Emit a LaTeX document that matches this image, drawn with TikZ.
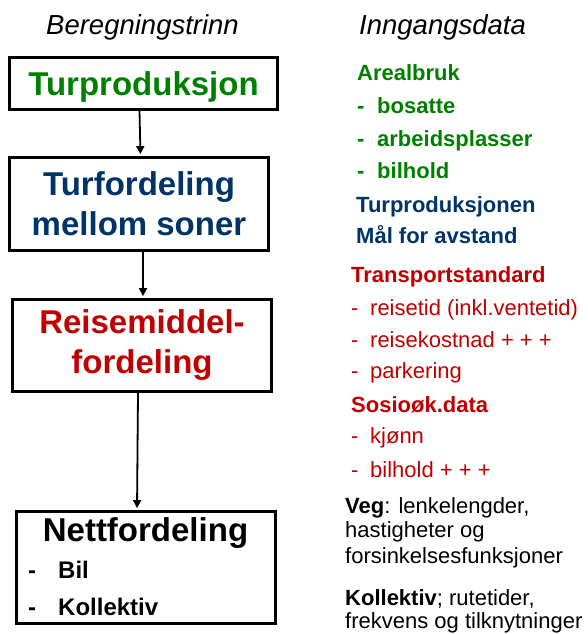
\documentclass[tikz,border=0pt]{standalone}
\usepackage{fontspec}
\setmainfont{Liberation Sans}
\usetikzlibrary{arrows.meta, positioning, calc}
\definecolor{TurGreen}{RGB}{0,128,0}
\definecolor{TurBlue}{RGB}{0,51,102}
\definecolor{TurRed}{RGB}{192,0,0}

\tikzset{
  steg/.style={draw, line width=2.8pt, inner sep=0pt, align=center, font=\fontsize{33}{40}\selectfont\bfseries},
  pil/.style={line width=1.8pt, -{Triangle[length=8pt,width=8pt]}, shorten >=2pt},
  overskrift/.style={anchor=base west, inner sep=0pt, font=\fontsize{27.5}{30}\selectfont\itshape},
  inndata/.style={anchor=base west, inner sep=0pt, font=\fontsize{22}{25}\selectfont},
  inndatafet/.style={inndata, font=\fontsize{22}{25}\selectfont\bfseries},
}
\newcommand{\strek}[1]{\makebox[#1][l]{-}}

\begin{document}
\begin{tikzpicture}[x=1pt, y=-1pt]
\useasboundingbox (0,0) rectangle (587,634);

% overskrifter
\node[overskrift] (beregn) at (46,35) {Beregningstrinn};
\node[overskrift] (inngang) at (359,35) {Inngangsdata};

% beregningstrinn
\node[steg, text=TurGreen, minimum width=268pt, minimum height=52pt, text depth=0pt] (b1) at (143.5,83.5) {Turproduksjon};
\node[steg, text=TurBlue, minimum width=259pt, minimum height=93pt] (b2) at (139,204) {Turfordeling\\mellom soner};
\node[steg, text=TurRed, minimum width=259pt, minimum height=92pt] (b3) at (142,345.5) {Reisemiddel-\\fordeling};
\node[steg, minimum width=259pt, minimum height=112pt] (b4) at (146,567.5) {};
\node[anchor=base, inner sep=0pt, font=\fontsize{33}{40}\selectfont\bfseries] (nett) at (145.5,541) {Nettfordeling};
\node[inndata, font=\fontsize{24}{28}\selectfont\bfseries] (bil) at (28,578) {\strek{30pt}Bil};
\node[inndata, font=\fontsize{24}{28}\selectfont\bfseries] (koll) at (28,615) {\strek{30pt}Kollektiv};

\draw[pil] ([xshift=-4pt]b1.south) -- ([xshift=1.5pt]b2.north);
\draw[pil] ([xshift=4pt]b2.south) -- ([xshift=1pt]b3.north);
\draw[pil] ([xshift=-4pt]b3.south) -- ([xshift=-9pt]b4.north);

% inngangsdata
\node[inndatafet, text=TurGreen] (areal) at (357,81) {Arealbruk};
\node[inndatafet, text=TurGreen] (bosatte) at (357,113) {\strek{20pt}bosatte};
\node[inndatafet, text=TurGreen] (arbeid) at (357,146) {\strek{20pt}arbeidsplasser};
\node[inndatafet, text=TurGreen] (bilhold) at (357,178) {\strek{20pt}bilhold};
\node[inndatafet, text=TurBlue] (turprod) at (356,212) {Turproduksjonen};
\node[inndatafet, text=TurBlue] (maal) at (356,243) {Mål for avstand};

\node[inndatafet, text=TurRed] (transport) at (351,282) {Transportstandard};
\node[inndata, text=TurRed] (reisetid) at (351,315) {\strek{19pt}reisetid (inkl.ventetid)};
\node[inndata, text=TurRed] (kostnad) at (351,347) {\strek{19pt}reisekostnad + + +};
\node[inndata, text=TurRed] (parkering) at (351,378) {\strek{19pt}parkering};
\node[inndatafet, text=TurRed] (sosio) at (351,412) {Sosioøk.data};
\node[inndata, text=TurRed] (kjonn) at (351,443) {\strek{19pt}kjønn};
\node[inndata, text=TurRed] (bilhold2) at (351,477) {\strek{19pt}bilhold + + +};

\node[inndata] (veg) at (345,513) {\textbf{Veg}: lenkelengder,};
\node[inndata] (veg2) at (345,537) {hastigheter og};
\node[inndata] (veg3) at (345,563) {forsinkelsesfunksjoner};
\node[inndata] (kollektiv) at (345,605) {\textbf{Kollektiv}; rutetider,};
\node[inndata] (kollektiv2) at (345,628) {frekvens og tilknytninger};
\end{tikzpicture}
\end{document}
